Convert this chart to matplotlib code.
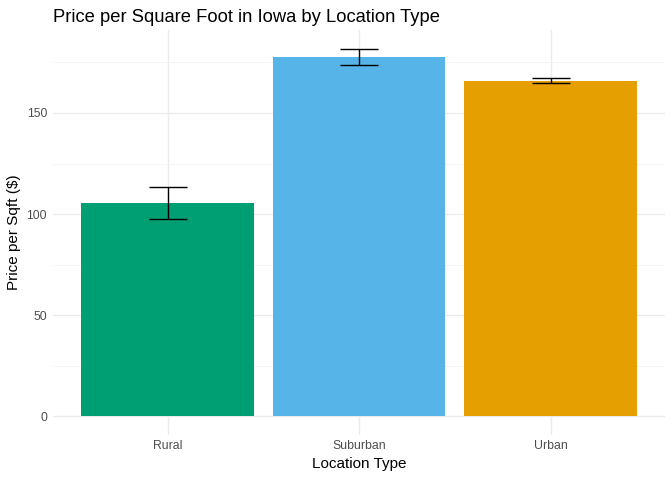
import matplotlib
matplotlib.use("Agg")
import matplotlib.pyplot as plt
import numpy as np

plt.rcParams["font.family"] = ["Liberation Sans", "DejaVu Sans"]

# Data
location = ["Rural", "Suburban", "Urban"]
price_mean = [105.4, 177.7, 166.0]
price_err = [8.0, 3.9, 1.25]
colors = ["#009E73", "#56B4E9", "#E69F00"]

fig = plt.figure(figsize=(6.72, 4.8), dpi=100)
ax = fig.add_axes([0.0783, 0.094, 0.912, 0.8435])

x = np.arange(1, len(location) + 1)
ax.bar(x, price_mean, width=0.9, color=colors, zorder=2)
ax.errorbar(x, price_mean, yerr=price_err, fmt="none", ecolor="black",
            elinewidth=1.0, capsize=13.6, capthick=1.0, zorder=3)

# Axis ranges
ax.set_xlim(0.4, 3.6)
ax.set_ylim(-9.1, 191.0)

# Grid, ggplot minimal style
ax.set_yticks([0, 50, 100, 150])
ax.set_yticks([25, 75, 125, 175], minor=True)
ax.set_xticks(x)
ax.set_xticklabels(location)
ax.grid(which="major", color="#EBEBEB", linewidth=1.0, zorder=0)
ax.grid(which="minor", axis="y", color="#F2F2F2", linewidth=0.6, zorder=0)
ax.set_axisbelow(True)
for s in ax.spines.values():
    s.set_visible(False)
ax.tick_params(which="both", length=0, labelsize=8.8, labelcolor="#4D4D4D", pad=4)

ax.set_xlabel("Location Type", fontsize=11, labelpad=3)
ax.set_ylabel("Price per Sqft ($)", fontsize=11, labelpad=4)
ax.set_title("Price per Square Foot in Iowa by Location Type", fontsize=13.2,
             loc="left", x=0.0, pad=6)

fig.savefig("out.png", dpi=100)
